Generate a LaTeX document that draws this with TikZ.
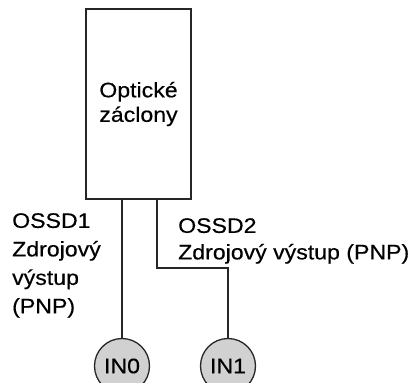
\documentclass[tikz,border=0pt]{standalone}
\usepackage{fontspec}
\setmainfont[FakeStretch=1.1,FakeBold=0.4]{Liberation Sans}
\begin{document}
\begin{tikzpicture}[x=1pt,y=-1pt,
  txt/.style={inner sep=0pt},
  wire/.style={line width=1.6pt, black!85},
  blockbox/.style={draw=black!85, line width=1.6pt, minimum width=105pt, minimum height=190pt, inner sep=0pt, align=center, font=\fontsize{21}{24.5}\selectfont},
  innode/.style={circle, draw=black!85, line width=1.3pt, fill=black!18, minimum size=55pt, inner sep=0pt, font=\fontsize{21}{24}\selectfont}]
\useasboundingbox (0,0) rectangle (418,383);
\clip (0,0) rectangle (418,383);
\node[blockbox] (box) at (138.5,104) {Optické\\záclony};
\node[innode] (in0) at (122,366) {IN0};
\node[innode] (in1) at (228,366) {IN1};
\coordinate (bend) at (157,268);
\draw[wire] ([xshift=-16.5pt]box.south) -- (in0.north);
\draw[wire] ([xshift=18.5pt]box.south) -- (bend) -| (in1.north);
\node[txt, align=left, anchor=north west, font=\fontsize{21}{28.5}\selectfont] (t1) at (12,213) {OSSD1\\Zdrojový\\výstup\\(PNP)};
\node[txt, align=left, anchor=north west, font=\fontsize{21}{26.5}\selectfont] (t2) at (178,218) {OSSD2\\Zdrojový výstup (PNP)};
\end{tikzpicture}
\end{document}
